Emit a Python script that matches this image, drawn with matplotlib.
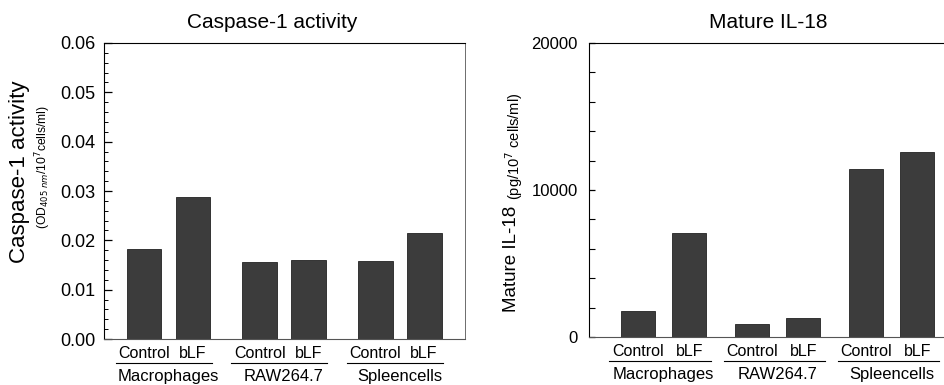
import matplotlib
matplotlib.use("Agg")
import matplotlib.pyplot as plt
from matplotlib.ticker import MultipleLocator, FormatStrFormatter
import matplotlib.transforms as mtransforms

plt.rcParams["font.family"] = ["Liberation Sans", "DejaVu Sans"]

# data
groups = ["Macrophages", "RAW264.7", "Spleencells"]
treatments = ["Control", "bLF"]
caspase_control = [0.0182, 0.0157, 0.0158]
caspase_blf = [0.0287, 0.0161, 0.0214]
il18_control = [1750, 900, 11450]
il18_blf = [7050, 1300, 12600]

BAR_COLOR = "#3c3c3c"
W, H = 945, 385


def draw_panel(ax, control, blf, first, gap, width, xmax, ul_left, ul_right):
    xs_c = [first + i * gap for i in range(len(groups))]
    xs_b = [x + 1 for x in xs_c]
    ax.bar(xs_c, control, width=width, color=BAR_COLOR, edgecolor="#222222", linewidth=0.6, zorder=2)
    ax.bar(xs_b, blf, width=width, color=BAR_COLOR, edgecolor="#222222", linewidth=0.6, zorder=2)
    ax.set_xlim(0, xmax)
    ax.set_xticks([])

    # two-row category labels under the axis, with an underline per pair
    trans = mtransforms.blended_transform_factory(ax.transData, ax.transAxes)
    for xc, xb, name in zip(xs_c, xs_b, groups):
        ax.text(xc, -0.064, treatments[0], transform=trans, ha="center", va="baseline", fontsize=11.5)
        ax.text(xb, -0.064, treatments[1], transform=trans, ha="center", va="baseline", fontsize=11.5)
        ax.plot([xc - ul_left, xb + ul_right], [-0.082, -0.082], transform=trans, color="black",
                linewidth=0.8, clip_on=False)
        ax.text((xc + xb) / 2, -0.143, name, transform=trans, ha="center", va="baseline", fontsize=12)


fig = plt.figure(figsize=(W / 100, H / 100), dpi=100)

# left panel: caspase-1 activity
ax1 = fig.add_axes([104 / W, (H - 339) / H, 361 / W, 296 / H])
draw_panel(ax1, caspase_control, caspase_blf, first=0.816, gap=2.36, width=0.71, xmax=7.37,
           ul_left=0.58, ul_right=0.38)
ax1.set_ylim(0, 0.06)
ax1.yaxis.set_major_locator(MultipleLocator(0.01))
ax1.yaxis.set_minor_locator(MultipleLocator(0.002))
ax1.yaxis.set_major_formatter(FormatStrFormatter("%.2f"))
ax1.tick_params(axis="y", which="major", direction="in", length=6, width=0.9, labelsize=13, pad=6)
ax1.tick_params(axis="y", which="minor", direction="in", length=3, width=0.7)
ax1.spines["bottom"].set_color("#555555")
ax1.spines["bottom"].set_linewidth(0.8)
ax1.spines["right"].set_color("#555555")
ax1.spines["right"].set_linewidth(0.6)
fig.text(272 / W, 1 - 23 / H, "Caspase-1 activity", ha="center", va="center", fontsize=15)
fig.text(20 / W, 1 - 172 / H, "Caspase-1 activity", rotation=90, ha="center", va="center", fontsize=16)
fig.text(43 / W, 1 - 167 / H, "(OD$_{405\\ nm}$/10$^7$cells/ml)", rotation=90, ha="center", va="center",
         fontsize=8.7)

# right panel: mature IL-18
ax2 = fig.add_axes([589 / W, (H - 337) / H, 358 / W, 294 / H])
draw_panel(ax2, il18_control, il18_blf, first=0.96, gap=2.23, width=0.67, xmax=7.0,
           ul_left=0.56, ul_right=0.42)
ax2.set_ylim(0, 20000)
ax2.set_yticks([0, 10000, 20000])
ax2.yaxis.set_minor_locator(MultipleLocator(2000))
ax2.tick_params(axis="y", which="major", direction="in", length=4, width=0.9, labelsize=12, pad=8)
ax2.tick_params(axis="y", which="minor", direction="in", length=4, width=0.8)
ax2.spines["right"].set_visible(False)
ax2.spines["bottom"].set_color("#555555")
ax2.spines["bottom"].set_linewidth(0.8)
fig.text(768 / W, 1 - 23 / H, "Mature IL-18", ha="center", va="center", fontsize=15)
fig.text(512 / W, 1 - 312 / H, "Mature IL-18", rotation=90, ha="center", va="bottom", fontsize=13.5)
fig.text(514 / W, 1 - 200 / H, "(pg/10$^7$ cells/ml)", rotation=90, ha="center", va="bottom", fontsize=10.5)

fig.savefig("out.png", dpi=100)
